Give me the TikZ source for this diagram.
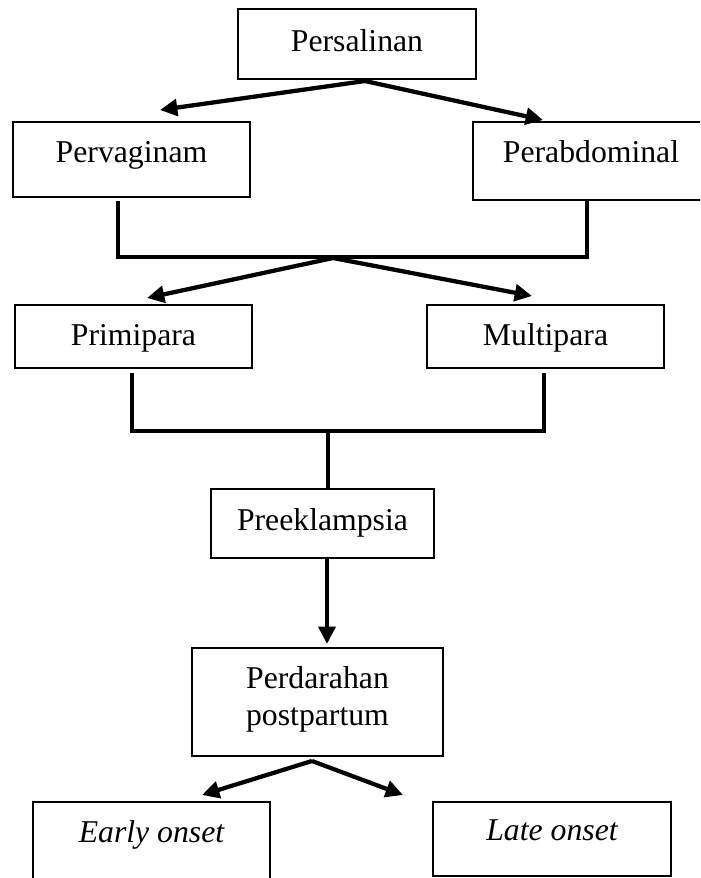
\documentclass[tikz,border=0pt]{standalone}
\usepackage{fontspec}
\setmainfont{Liberation Serif}
\usetikzlibrary{arrows.meta,calc}
\newcommand\myfs{\fontsize{23.8pt}{28pt}\selectfont}
\begin{document}
\begin{tikzpicture}[x=0.75pt,y=-0.75pt,
  box/.style={draw,line width=1.7pt,inner sep=0pt},
  lbl/.style={anchor=base,inner sep=0pt,font=\myfs},
  conn/.style={line width=3.2pt},
  arr/.style={conn,-{Triangle[length=13pt,width=12.5pt]}}]
\useasboundingbox (0,0) rectangle (700,878);
\clip (0,0) rectangle (700,878);
% boxes
\node[box,minimum width=178.5pt,minimum height=52.5pt] (pers) at (357,44) {};
\node[box,minimum width=177.75pt,minimum height=56.25pt] (perv) at (131.5,159.5) {};
\node[box,minimum width=177.75pt,minimum height=58.5pt] (perab) at (591.5,161) {};
\node[box,minimum width=177.75pt,minimum height=47.25pt] (prim) at (133.5,336.5) {};
\node[box,minimum width=177.75pt,minimum height=47.25pt] (multi) at (545.5,336.5) {};
\node[box,minimum width=167.25pt,minimum height=51.75pt] (pre) at (322.5,523.5) {};
\node[box,minimum width=188.25pt,minimum height=81pt] (perd) at (317.5,702) {};
\node[box,minimum width=177.75pt,minimum height=73.5pt] (early) at (151.5,851) {};
\node[box,minimum width=178.5pt,minimum height=55.5pt] (late) at (552,839) {};
% texts
\node[lbl] (persT) at (357,51) {Persalinan};
\node[lbl] (pervT) at (131.5,162) {Pervaginam};
\node[lbl] (perabT) at (591,162) {Perabdominal};
\node[lbl] (primT) at (133.5,345) {Primipara};
\node[lbl] (multiT) at (545.5,345) {Multipara};
\node[lbl] (preT) at (322.5,530) {Preeklampsia};
\node[lbl] (perdTa) at (317.5,688) {Perdarahan};
\node[lbl] (perdTb) at (317.5,725) {postpartum};
\node[lbl] (earlyT) at (151.5,842) {\itshape Early onset};
\node[lbl] (lateT) at (552,840) {\itshape Late onset};
% coordinates
\coordinate (j0) at (365,81);
\coordinate (t1) at (160,110);
\coordinate (t2) at (543,120);
\coordinate (b1l) at (118,257);
\coordinate (b1r) at (587,257);
\coordinate (j1) at (333,258);
\coordinate (t3) at (147,298);
\coordinate (t4) at (532,296);
\coordinate (b2l) at (132,431);
\coordinate (b2r) at (544,431);
\coordinate (j2) at (328,431);
\coordinate (j3) at (327,644);
\coordinate (j4) at (312,761);
\coordinate (t5) at (202,795);
\coordinate (t6) at (403,795);
% connectors
\draw[arr] (j0) -- (t1);
\draw[arr] (j0) -- (t2);
\draw[conn] ($(perv.south -| b1l)+(0,3)$) -- (b1l) -- (b1r) -- (perab.south -| b1r);
\draw[arr] (j1) -- (t3);
\draw[arr] (j1) -- (t4);
\draw[conn] ($(prim.south -| b2l)+(0,4)$) -- (b2l) -- (b2r) -- ($(multi.south -| b2r)+(0,4)$);
\draw[conn] (j2) -- (pre.north -| j2);
\draw[arr] (pre.south -| j3) -- (j3);
\draw[arr] (j4) -- (t5);
\draw[arr] (j4) -- (t6);
\end{tikzpicture}
\end{document}
